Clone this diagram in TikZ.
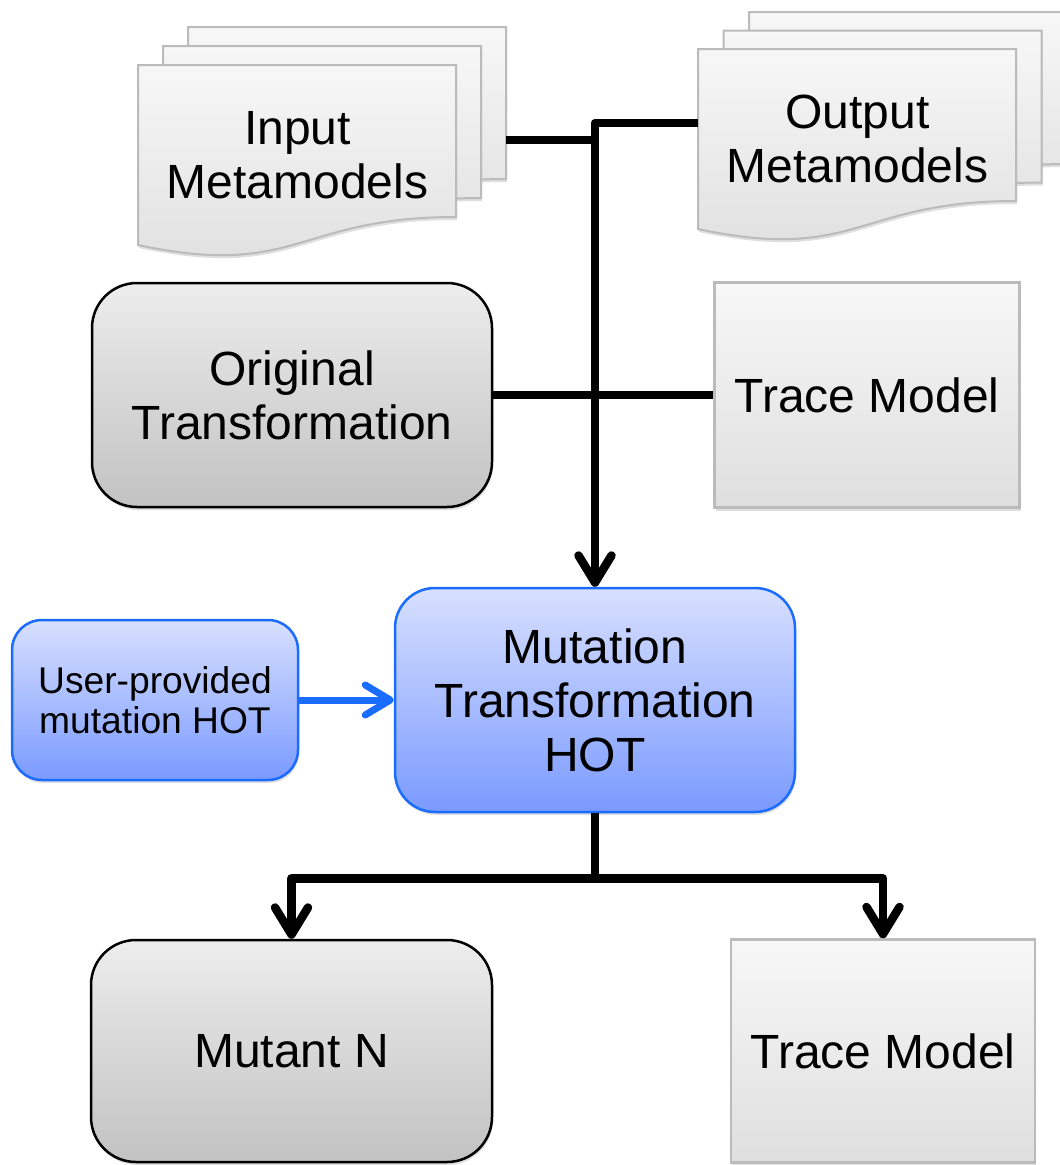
\documentclass[tikz,border=0pt]{standalone}
\usepackage{fontspec}
\setmainfont{Liberation Sans}
\usetikzlibrary{positioning,arrows.meta,shadows}

\definecolor{gtop}{HTML}{EDEDED}
\definecolor{gbot}{HTML}{C2C2C2}
\definecolor{ttop}{HTML}{F7F7F7}
\definecolor{tbot}{HTML}{DFDFDF}
\definecolor{tline}{HTML}{BBBBBB}
\definecolor{htop}{HTML}{D8E0FF}
\definecolor{hbot}{HTML}{7A9AFF}
\definecolor{hline}{HTML}{1A6CFF}

\begin{document}
\begin{tikzpicture}[x=1pt, y=-1pt, node distance=575pt,
  big/.style={font=\fontsize{48}{54}\selectfont, align=center},
  shd/.style={drop shadow={opacity=.25, shadow xshift=1pt, shadow yshift=-3pt}},
  rbox/.style={big, shd, draw=black, line width=2.5pt, rounded corners=45pt,
    top color=gtop, bottom color=gbot, minimum width=400pt, minimum height=224pt},
  tbox/.style={big, shd, draw=tline, line width=2.5pt, top color=ttop, bottom color=tbot,
    minimum width=305pt, minimum height=225pt},
  hbox/.style={big, shd, draw=hline, line width=2.5pt, rounded corners=40pt,
    top color=htop, bottom color=hbot, minimum width=400pt, minimum height=224pt},
  ubox/.style={hbox, font=\fontsize{37.2}{40}\selectfont, rounded corners=30pt,
    minimum width=286pt, minimum height=160pt},
  docsheet/.style={shd, draw=tline, line width=2pt, top color=ttop, bottom color=tbot},
  wire/.style={line width=8.5pt, line join=round},
  conn/.style={wire, -{Straight Barb[length=27pt,width=33pt,round]}},
  bconn/.style={draw=hline, line width=7pt, -{Straight Barb[length=25pt,width=30pt,round]}},
  mmdoc/.pic={\path[docsheet] (0,0) -- (318,0) -- (318,152)
    .. controls (159,152) and (159,214) .. (0,180) -- cycle;}]
\useasboundingbox (0,0) rectangle (1060,1165);
\clip (0,0) rectangle (1060,1165);

% metamodel stacks
\foreach \i in {2,1,0}
  \pic at (138+25*\i, 65-19*\i) {mmdoc};
\foreach \i in {2,1,0}
  \pic at (698+25.5*\i, 49-18.5*\i) {mmdoc};
\node[big] (inmm) at (297.5,155) {Input\\Metamodels};
\node[big] (outmm) at (857.5,139) {Output\\Metamodels};
\coordinate (inend) at (506,140);
\coordinate (outend) at (698,123);

\node[rbox] (orig) at (292,395) {Original\\Transformation};
\node[tbox] (trace1) [right of=orig] {Trace Model};
\node[hbox] (hot) at (595,700) {Mutation\\Transformation\\HOT};
\node[ubox] (user) [left of=hot, node distance=440pt] {User-provided\\mutation HOT};
\node[rbox, minimum width=401pt, minimum height=222pt] (mutant) at (291.5,1051) {Mutant N};
\node[tbox, minimum width=304pt, minimum height=223pt] (trace2) [right of=mutant, node distance=591.5pt] {Trace Model};

\draw[conn] (outend) -| (hot.north);
\draw[wire] (inend) -- (inend -| hot.north);
\draw[wire] (orig.east) -- (trace1.west);
\draw[conn] (hot.south) -- ++(0,65) -| (mutant.north);
\draw[conn] (hot.south) -- ++(0,65) -| (trace2.north);
\draw[bconn] (user.east) -- (hot.west);
\end{tikzpicture}
\end{document}
